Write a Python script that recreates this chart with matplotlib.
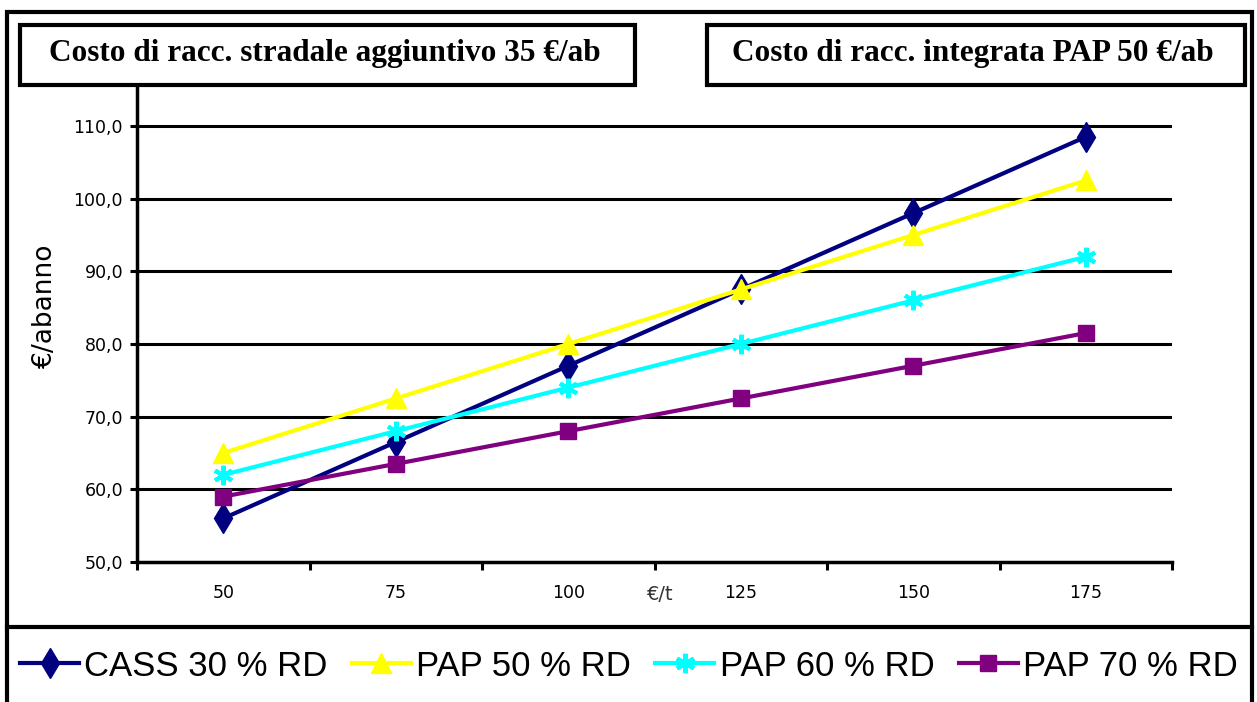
import matplotlib
matplotlib.use("Agg")
import numpy as np
import matplotlib.pyplot as plt
from matplotlib.patches import Rectangle
from matplotlib.lines import Line2D
from matplotlib.ticker import FuncFormatter

# ---- data ----
categories = ["50", "75", "100", "125", "150", "175"]
cass30 = [56.0, 66.5, 77.0, 87.5, 98.0, 108.5]
pap50 = [65.0, 72.5, 80.0, 87.5, 95.0, 102.5]
pap60 = [62.0, 68.0, 74.0, 80.0, 86.0, 92.0]
pap70 = [59.0, 63.5, 68.0, 72.5, 77.0, 81.5]
series_names = ["CASS 30 % RD", "PAP 50 % RD", "PAP 60 % RD", "PAP 70 % RD"]
yticks = [50, 60, 70, 80, 90, 100, 110]
title_left = "Costo di racc. stradale aggiuntivo 35 €/ab"
title_right = "Costo di racc. integrata PAP 50 €/ab"
xlabel = "€/t"
ylabel = "€/abanno"

W, H = 1257, 702
fig = plt.figure(figsize=(W / 100, H / 100), dpi=100)
fig.patch.set_facecolor("white")


def fx(px):
    return px / W


def fy(py):
    return 1 - py / H


# outer frame and separator
fig.add_artist(Rectangle((fx(7), fy(740)), fx(1252) - fx(7), fy(12) - fy(740),
                         transform=fig.transFigure, fill=False, ec="black", lw=3.0, clip_on=False))
fig.add_artist(Line2D([fx(7), fx(1252)], [fy(627), fy(627)], transform=fig.transFigure,
                      color="black", lw=3.0))

# title boxes
for (x0, x1, txt) in [(20, 635, title_left), (707, 1245, title_right)]:
    fig.add_artist(Rectangle((fx(x0), fy(85)), fx(x1) - fx(x0), fy(25) - fy(85),
                             transform=fig.transFigure, fill=True, fc="white", ec="black", lw=3.0))
    fig.text(fx((x0 + x1) / 2 - 3), fy(54), txt, ha="center", va="center",
             family="Liberation Serif", fontweight="bold", fontsize=22.5)

# axes
ax = fig.add_axes([fx(137), fy(562), fx(1172) - fx(137), fy(86) - fy(562)])
x = np.arange(len(categories))
styles = [
    (cass30, "#000080", "d", 15, {}),
    (pap50, "#FFFF00", "^", 14, {}),
    (pap60, "#00FFFF", (6, 2, 0), 14, {"markeredgewidth": 3}),
    (pap70, "#800080", "s", 11, {}),
]
for (vals, col, mk, ms, extra), name in zip(styles, series_names):
    ax.plot(x, vals, color=col, lw=3.0, marker=mk, markersize=ms,
            markerfacecolor=col, markeredgecolor=col, label=name, zorder=3, **extra)

ax.set_xlim(-0.5, len(categories) - 0.5)
ax.set_ylim(50, 115.5)

for s in ["top", "right"]:
    ax.spines[s].set_visible(False)
for s in ["left", "bottom"]:
    ax.spines[s].set_linewidth(2.5)

ax.set_yticks(yticks)
ax.yaxis.set_major_formatter(FuncFormatter(lambda v, p: f"{v:.1f}".replace(".", ",")))
ax.tick_params(axis="y", length=5, width=2.2, pad=5, labelsize=12.5)
for yv in yticks[1:]:
    ax.axhline(yv, color="black", lw=2.2, zorder=1)

ax.set_xticks(x)
ax.set_xticklabels(categories)
ax.set_xticks(np.arange(-0.5, len(categories), 1.0), minor=True)
ax.tick_params(axis="x", which="major", length=0, pad=16, labelsize=12.5)
ax.tick_params(axis="x", which="minor", length=6, width=2.2)

ax.set_xlabel(xlabel, fontsize=14, color="#333333")
ax.xaxis.set_label_coords((660 - 137) / 1035, -(594 - 562) / 476)
ax.xaxis.label.set_va("center")
ax.set_ylabel(ylabel, fontsize=19)
ax.yaxis.set_label_coords(-(137 - 45) / 1035, (562 - 306) / 476)
ax.yaxis.label.set_va("center")

# legend
handles, labels = ax.get_legend_handles_labels()
fig.legend(handles, labels, ncol=4, loc="center left",
           bbox_to_anchor=(fx(20), fy(666)), frameon=False,
           prop={"family": "Liberation Sans", "size": 25},
           handlelength=1.7, handletextpad=0.15, columnspacing=0.7,
           borderpad=0, borderaxespad=0)

fig.savefig("out.png", dpi=100, facecolor="white")
